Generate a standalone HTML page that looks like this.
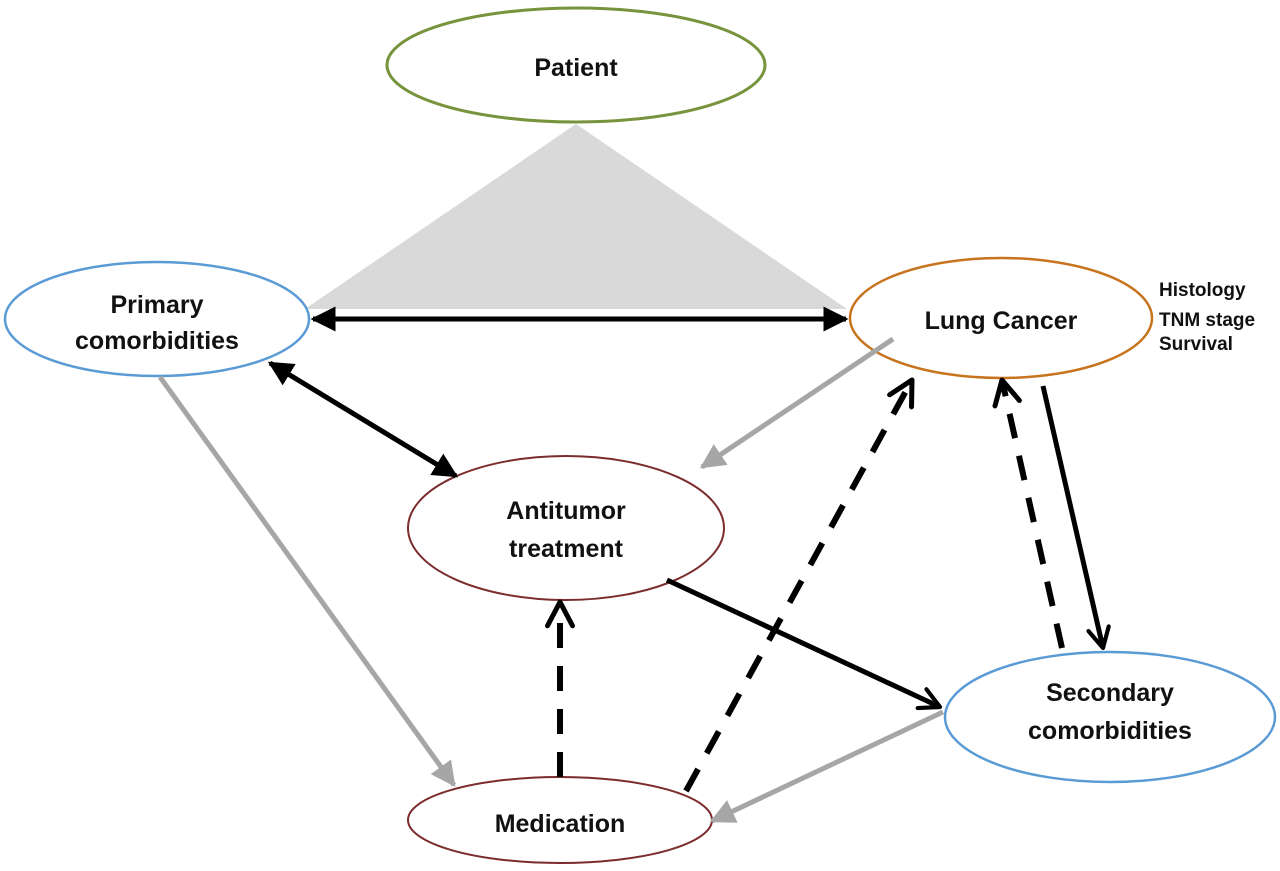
<!DOCTYPE html>
<html><head><meta charset="utf-8"><style>
html,body{margin:0;padding:0;background:#fff;}
svg{display:block;}
text{font-family:"Liberation Sans",sans-serif;font-weight:bold;fill:#111;}
</style></head><body>
<svg width="1280" height="871" viewBox="0 0 1280 871" xmlns="http://www.w3.org/2000/svg">
<defs>
<marker id="fb" viewBox="0 0 10 10" refX="9" refY="5" markerWidth="5" markerHeight="5" orient="auto-start-reverse" markerUnits="strokeWidth"><path d="M0,0 L10,5 L0,10 z" fill="#000"/></marker>
<marker id="fg" viewBox="0 0 10 10" refX="9" refY="5" markerWidth="5" markerHeight="5" orient="auto" markerUnits="strokeWidth"><path d="M0,0 L10,5 L0,10 z" fill="#a6a6a6"/></marker>
<marker id="ob" viewBox="0 0 12 12" refX="10.5" refY="6" markerWidth="5" markerHeight="5" orient="auto" markerUnits="strokeWidth"><path d="M1,1 L10.5,6 L1,11" fill="none" stroke="#000" stroke-width="2" stroke-linecap="round" stroke-linejoin="round"/></marker>
</defs>
<polygon points="576,124 305,309 847,309" fill="#d9d9d9"/>
<ellipse cx="576" cy="65" rx="189" ry="57" fill="#fff" stroke="#77933c" stroke-width="3"/>
<ellipse cx="157" cy="319" rx="152" ry="57" fill="#fff" stroke="#5b9bd5" stroke-width="2.5"/>
<ellipse cx="1001" cy="318" rx="151" ry="60" fill="#fff" stroke="#c8741e" stroke-width="2.5"/>
<ellipse cx="566" cy="528" rx="158" ry="72" fill="#fff" stroke="#7b2c2c" stroke-width="2"/>
<ellipse cx="1110" cy="717" rx="165" ry="65" fill="#fff" stroke="#5b9bd5" stroke-width="2.5"/>
<ellipse cx="560" cy="820" rx="152" ry="43" fill="#fff" stroke="#7b2c2c" stroke-width="2"/>

<line x1="313" y1="319" x2="846" y2="319" stroke="#000" stroke-width="5" marker-start="url(#fb)" marker-end="url(#fb)"/>
<line x1="270" y1="363" x2="456" y2="476" stroke="#000" stroke-width="5" marker-start="url(#fb)" marker-end="url(#fb)"/>
<line x1="893" y1="339" x2="702" y2="467" stroke="#a6a6a6" stroke-width="5" marker-end="url(#fg)"/>
<line x1="160" y1="377" x2="454" y2="785" stroke="#a6a6a6" stroke-width="5" marker-end="url(#fg)"/>
<line x1="943" y1="712" x2="712" y2="821" stroke="#a6a6a6" stroke-width="5" marker-end="url(#fg)"/>
<line x1="667" y1="580" x2="940" y2="707" stroke="#000" stroke-width="5" marker-end="url(#ob)"/>
<line x1="1043" y1="386" x2="1103" y2="648" stroke="#000" stroke-width="5" marker-end="url(#ob)"/>
<line x1="560" y1="777" x2="560" y2="602" stroke="#000" stroke-width="6" stroke-dasharray="25,18" marker-end="url(#ob)"/>
<line x1="686" y1="791" x2="912" y2="380" stroke="#000" stroke-width="6" stroke-dasharray="25,18" marker-end="url(#ob)"/>
<line x1="1062" y1="648" x2="1002" y2="380" stroke="#000" stroke-width="6" stroke-dasharray="25,18" marker-end="url(#ob)"/>

<text x="576" y="76" font-size="25" text-anchor="middle">Patient</text>
<text x="157" y="313" font-size="25" text-anchor="middle">Primary</text>
<text x="157" y="349" font-size="25" text-anchor="middle">comorbidities</text>
<text x="1001" y="329" font-size="25" text-anchor="middle">Lung Cancer</text>
<text x="566" y="519" font-size="25" text-anchor="middle">Antitumor</text>
<text x="566" y="557" font-size="25" text-anchor="middle">treatment</text>
<text x="1110" y="701" font-size="25" text-anchor="middle">Secondary</text>
<text x="1110" y="739" font-size="25" text-anchor="middle">comorbidities</text>
<text x="560" y="832" font-size="25" text-anchor="middle">Medication</text>
<text x="1159" y="296" font-size="19">Histology</text>
<text x="1159" y="326" font-size="19">TNM stage</text>
<text x="1159" y="350" font-size="19">Survival</text>
</svg>
</body></html>
